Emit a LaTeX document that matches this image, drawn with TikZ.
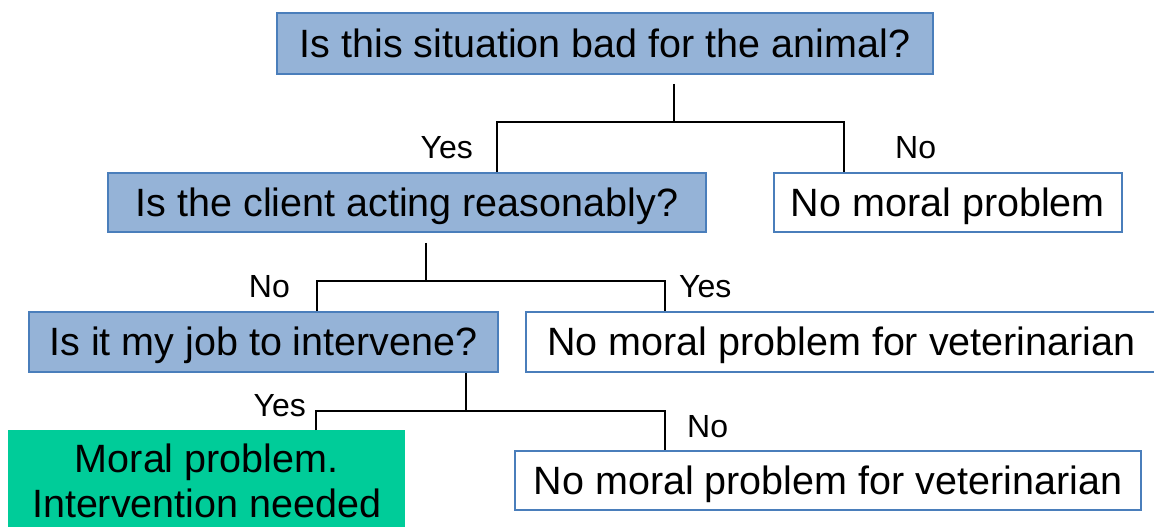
\documentclass[tikz,border=0pt]{standalone}
\usepackage{fontspec}
\setmainfont{Liberation Sans}
\usepackage{tikz}
\definecolor{cFill}{HTML}{95B3D7}
\definecolor{cEdge}{HTML}{4A7EBB}
\definecolor{cGreen}{HTML}{00CC99}
\tikzset{
  qbox/.style={draw=cEdge,fill=cFill,line width=1.8pt,anchor=north west,inner sep=0pt,align=center,
    font=\fontsize{39.5}{45}\selectfont,text height=28pt,text depth=0pt},
  abox/.style={qbox,fill=white},
  gbox/.style={fill=cGreen,anchor=north west,inner xsep=0pt,inner ysep=13.7pt,align=center,font=\fontsize{39.5}{45}\selectfont},
  conn/.style={draw=black,line width=1.8pt},
  lbl/.style={font=\fontsize{32}{36}\selectfont,inner sep=0pt},
}

\begin{document}
\begin{tikzpicture}[x=1pt,y=-1pt]
    \useasboundingbox (0,0) rectangle (1154,527);
    % questions and outcomes
    \node[qbox,minimum width=656pt,minimum height=61pt] (q1) at (276,12) {Is this situation bad for the animal?};
    \node[qbox,minimum width=598pt,minimum height=59pt] (q2) at (107,172) {Is the client acting reasonably?};
    \node[abox,minimum width=348pt,minimum height=59pt] (r1) at (773,172) {No moral problem};
    \node[qbox,minimum width=469pt,minimum height=60pt] (q3) at (28,311) {Is it my job to intervene?};
    \node[abox,minimum width=631pt,minimum height=60pt] (r2) at (525,311) {No moral problem for veterinarian};
    \node[gbox,minimum width=397pt] (g) at (8,430) {Moral problem.\\Intervention needed};
    \node[abox,minimum width=626pt,minimum height=59pt] (r3) at (514,450) {No moral problem for veterinarian};
    % level 1
    \coordinate (j1) at (674,122);
    \draw[conn] ([yshift=-9pt]q1.south -| j1) -- (j1);
    \draw[conn] ([xshift=90pt]q2.north) |- (j1) -| ([xshift=-104pt]r1.north);
    \node[lbl,anchor=base east] (y1) at (473,158) {Yes};
    \node[lbl,anchor=base west] (n1) at (895,158) {No};
    % level 2
    \coordinate (j2) at (426,281);
    \draw[conn] ([yshift=-10pt]q2.south -| j2) -- (j2);
    \draw[conn] ([xshift=53.5pt]q3.north) |- (j2) -| ([xshift=-176.5pt]r2.north);
    \node[lbl,anchor=base east] (n2) at (290,297) {No};
    \node[lbl,anchor=base west] (y2) at (679,297) {Yes};
    % level 3
    \coordinate (j3) at (466,411);
    \draw[conn] (q3.south -| j3) -- (j3);
    \draw[conn] ([xshift=109.5pt]g.north) |- (j3) -| ([xshift=-163pt]r3.north);
    \node[lbl,anchor=base east] (y3) at (306,416) {Yes};
    \node[lbl,anchor=base west] (n3) at (687,437) {No};
  \end{tikzpicture}
\end{document}
